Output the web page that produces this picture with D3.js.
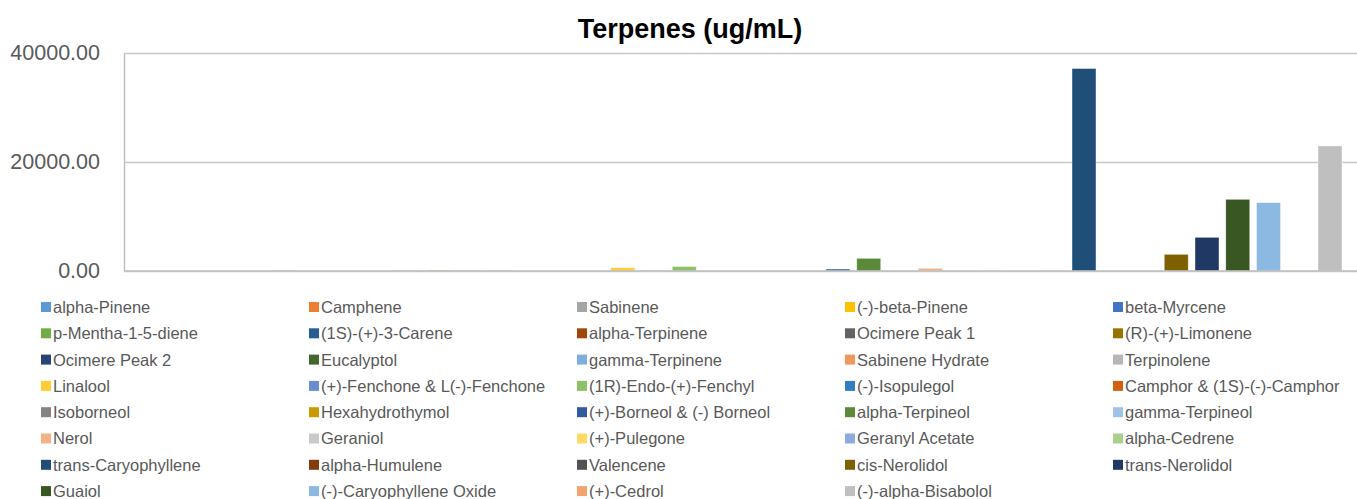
<!DOCTYPE html>
<html>
<head>
<meta charset="utf-8">
<script src="https://cdn.jsdelivr.net/npm/d3@7"></script>
<style>
  body { margin: 0; background: #fff; }
  svg { display: block; }
</style>
</head>
<body>
<svg id="chart" width="1357" height="499"></svg>
<script>
const title = "Terpenes (ug/mL)";
const seriesNames = [
  "alpha-Pinene", "Camphene", "Sabinene", "(-)-beta-Pinene", "beta-Myrcene",
  "p-Mentha-1-5-diene", "(1S)-(+)-3-Carene", "alpha-Terpinene", "Ocimere Peak 1", "(R)-(+)-Limonene",
  "Ocimere Peak 2", "Eucalyptol", "gamma-Terpinene", "Sabinene Hydrate", "Terpinolene",
  "Linalool", "(+)-Fenchone & L(-)-Fenchone", "(1R)-Endo-(+)-Fenchyl", "(-)-Isopulegol", "Camphor & (1S)-(-)-Camphor",
  "Isoborneol", "Hexahydrothymol", "(+)-Borneol & (-) Borneol", "alpha-Terpineol", "gamma-Terpineol",
  "Nerol", "Geraniol", "(+)-Pulegone", "Geranyl Acetate", "alpha-Cedrene",
  "trans-Caryophyllene", "alpha-Humulene", "Valencene", "cis-Nerolidol", "trans-Nerolidol",
  "Guaiol", "(-)-Caryophyllene Oxide", "(+)-Cedrol", "(-)-alpha-Bisabolol"
];
const seriesValues = [
  0, 0, 0, 0, 100,
  0, 0, 0, 80, 150,
  80, 60, 0, 0, 0,
  600, 60, 820, 0, 0,
  0, 0, 360, 2330, 0,
  500, 0, 80, 0, 40,
  37150, 0, 0, 3060, 6180,
  13150, 12550, 0, 22950
];
const seriesColors = [
  "#5B9BD5", "#ED7D31", "#A5A5A5", "#FFC000", "#4472C4",
  "#70AD47", "#255E91", "#9E480E", "#636363", "#997300",
  "#264478", "#43682B", "#7CAFDD", "#F1975A", "#B7B7B7",
  "#FFCD33", "#698ED0", "#8CC168", "#327DC2", "#D26012",
  "#848484", "#CC9A00", "#335AA1", "#5A8A39", "#9DC3E6",
  "#F4B183", "#C9C9C9", "#FFD966", "#8FAADC", "#A9D18E",
  "#1F4E79", "#843C0C", "#525252", "#7F6000", "#203864",
  "#385723", "#8CB9E2", "#F2A46F", "#BFBFBF"
];
const yTicks = [0, 20000, 40000];

const svg = d3.select("#chart");
const plotLeft = 124, plotRight = 1357, plotTop = 53, plotBottom = 271;

const x = d3.scaleBand()
  .domain(seriesNames)
  .range([149.5, 1342])
  .paddingInner(0.22)
  .paddingOuter(0);

const y = d3.scaleLinear().domain([0, 40000]).range([plotBottom, plotTop]);

// title
svg.append("text")
  .attr("x", 690).attr("y", 38)
  .attr("text-anchor", "middle")
  .attr("font-family", "Liberation Sans, Arial, sans-serif")
  .attr("font-weight", "bold")
  .attr("font-size", 27)
  .attr("fill", "#000")
  .text(title);

// y axis with gridlines
const yAxis = d3.axisLeft(y)
  .tickValues(yTicks)
  .tickFormat(d3.format(".2f"))
  .tickSize(-(plotRight - plotLeft))
  .tickSizeOuter(0)
  .tickPadding(24);

const gy = svg.append("g")
  .attr("transform", `translate(${plotLeft},0)`)
  .call(yAxis);
gy.select(".domain").attr("stroke", "#BFBFBF").attr("stroke-width", 1.5);
gy.selectAll(".tick line").attr("stroke", "#C8C8C8").attr("stroke-width", 1.5);
gy.selectAll(".tick text")
  .attr("font-family", "Liberation Sans, Arial, sans-serif")
  .attr("font-size", 21.5)
  .attr("fill", "#595959");

// bars
svg.append("g").selectAll("rect")
  .data(seriesNames.map((n, i) => ({ name: n, value: seriesValues[i], color: seriesColors[i] })))
  .join("rect")
  .attr("x", d => x(d.name))
  .attr("y", d => y(d.value))
  .attr("width", x.bandwidth())
  .attr("height", d => plotBottom - y(d.value))
  .attr("fill", d => d.color)
  .attr("stroke", "rgba(255,255,255,0.5)")
  .attr("stroke-width", 0.8);

// baseline on top
svg.append("line")
  .attr("x1", plotLeft).attr("x2", plotRight)
  .attr("y1", y(0)).attr("y2", y(0))
  .attr("stroke", "#BFBFBF").attr("stroke-width", 1.5);

// legend
const cols = 5, colStep = 268, legendX0 = 53, legendY0 = 307, rowStep = 26.3;
const lg = svg.append("g");
const items = lg.selectAll("g")
  .data(seriesNames.map((n, i) => ({ name: n, color: seriesColors[i], i })))
  .join("g")
  .attr("transform", d => `translate(${legendX0 + (d.i % cols) * colStep},${legendY0 + Math.floor(d.i / cols) * rowStep})`);
items.append("rect")
  .attr("x", -12).attr("y", -5).attr("width", 10).attr("height", 10)
  .attr("fill", d => d.color);
items.append("text")
  .attr("x", 0).attr("y", 0)
  .attr("dy", "0.36em")
  .attr("font-family", "Liberation Sans, Arial, sans-serif")
  .attr("font-size", 16.5)
  .attr("fill", "#595959")
  .text(d => d.name);
</script>
</body>
</html>
